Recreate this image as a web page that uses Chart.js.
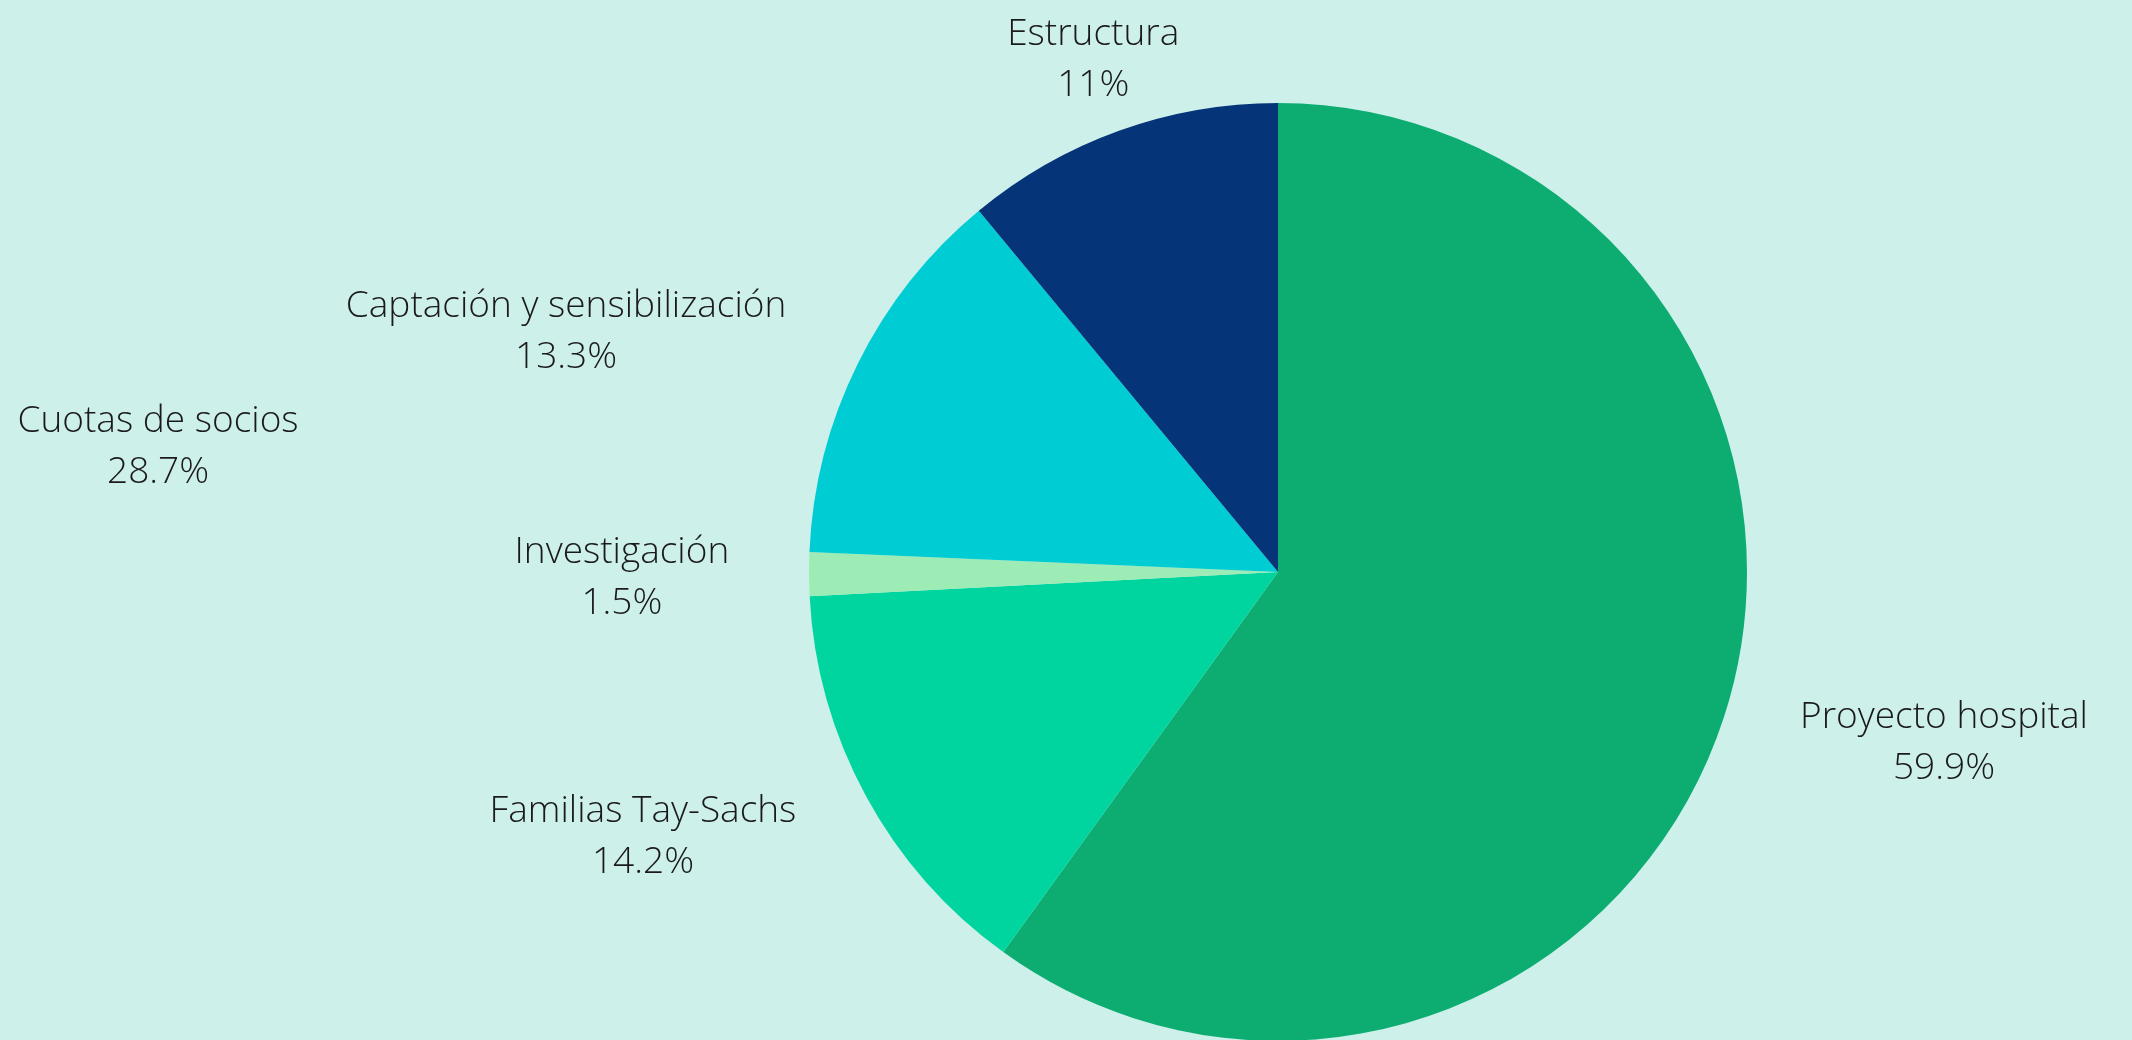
<!DOCTYPE html>
<html>
<head>
<meta charset="utf-8">
<script src="https://cdn.jsdelivr.net/npm/chart.js@4/dist/chart.umd.min.js"></script>
<style>
  html, body { margin: 0; padding: 0; background: #CDF0EB; overflow: hidden; width: 2132px; height: 1040px; }
  #wrap { width: 2132px; height: 1100px; }
</style>
</head>
<body>
<div id="wrap"><canvas id="c" width="2132" height="1100"></canvas></div>
<script>
// ---- data ----
const categories = ["Proyecto hospital", "Familias Tay-Sachs", "Investigación", "Captación y sensibilización", "Estructura", "Cuotas de socios"];
const sliceValues = [59.9, 14.2, 1.5, 13.3, 11, 0];
const shownPercents = ["59.9%", "14.2%", "1.5%", "13.3%", "11%", "28.7%"];

// ---- styling / layout (not data) ----
const sliceColors = ["#0DAD72", "#00D5A0", "#9DEBB5", "#00CCD3", "#063479", "#CDF0EB"];
// label anchor offsets (center x, first-line baseline) in units of pie radius
const labelOffsets = [[1.420, 0.333], [-1.354, 0.533], [-1.399, -0.019], [-1.518, -0.544], [-0.394, -1.124], [-2.388, -0.299]];

const labelPlugin = {
  id: 'outerLabels',
  afterDatasetsDraw(chart) {
    const meta = chart.getDatasetMeta(0);
    const arc = meta.data[0];
    const cx = arc.x, cy = arc.y, r = arc.outerRadius;
    const ctx = chart.ctx;
    ctx.save();
    ctx.fillStyle = '#1a1a1a';
    ctx.font = '300 37px "Open Sans"';
    ctx.textAlign = 'center';
    ctx.textBaseline = 'alphabetic';
    categories.forEach((name, i) => {
      const x = cx + labelOffsets[i][0] * r;
      const y = cy + labelOffsets[i][1] * r;
      ctx.fillText(name, x, y);
      ctx.fillText(shownPercents[i], x, y + 51);
    });
    ctx.restore();
  }
};

new Chart(document.getElementById('c'), {
  type: 'pie',
  data: {
    labels: categories,
    datasets: [{
      data: sliceValues,
      backgroundColor: sliceColors,
      borderWidth: 0
    }]
  },
  options: {
    responsive: false,
    animation: false,
    layout: { padding: { left: 809, right: 385, top: 103, bottom: 59 } },
    plugins: {
      legend: { display: false },
      tooltip: { enabled: false }
    }
  },
  plugins: [labelPlugin]
});
</script>
</body>
</html>
